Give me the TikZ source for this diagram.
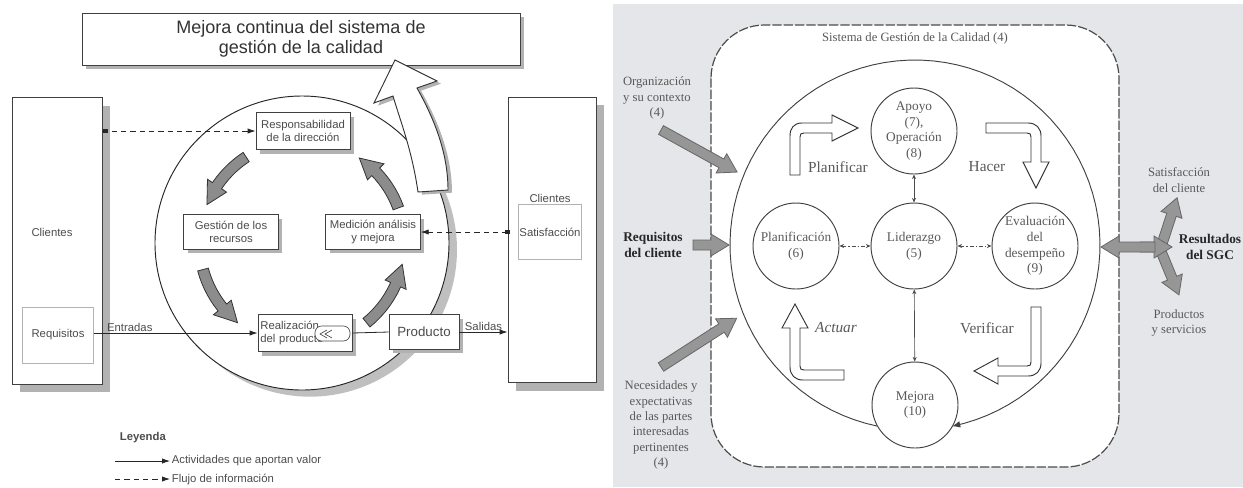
\documentclass[tikz,border=0pt]{standalone}
\usepackage{fontspec}
\setmainfont{Liberation Serif}
\setsansfont{Liberation Sans}
\usetikzlibrary{arrows.meta,positioning,shadows,calc}

\definecolor{fondoDer}{RGB}{228,230,233}
\definecolor{grisFlecha}{RGB}{150,150,150}

\tikzset{every picture/.style={line width=0.75pt}}
\tikzset{
  caja/.style={draw=black!75, fill=white, line width=0.6pt, align=center, inner sep=1pt,
    font=\sffamily\fontsize{8.5}{10}\selectfont, text=black!70},
  sombra/.style={drop shadow={shadow xshift=#1, shadow yshift=-#1, fill=black!30, opacity=1}},
  cajaSuave/.style={draw=black!30, fill=white, line width=0.6pt, align=center, inner sep=1pt,
    font=\sffamily\fontsize{8.5}{10}\selectfont, text=black!70},
  etiqueta/.style={font=\sffamily\fontsize{8.5}{10}\selectfont, text=black!70, inner sep=1pt},
  giro/.style={fill=black!45, draw=black!80, line width=0.6pt},
  valor/.style={draw=black!85, line width=0.6pt, -{Latex[length=6pt,width=4pt]}},
  info/.style={draw=black!85, line width=0.6pt, dash pattern=on 4pt off 3pt, -{Latex[length=6pt,width=4pt]}},
  % right model
  proceso/.style={circle, draw=black!75, fill=white, line width=0.7pt, minimum size=64.5pt, inner sep=0pt,
    align=center, font=\fontsize{10}{11.8}\selectfont, text=black!65},
  texto/.style={align=center, font=\fontsize{9.5}{11.5}\selectfont, text=black!65, inner sep=1pt},
  negrita/.style={align=center, font=\bfseries\fontsize{10}{11.5}\selectfont, text=black!85, inner sep=1pt},
  fase/.style={font=\fontsize{11.5}{13}\selectfont, text=black!65, inner sep=1pt},
  enlace/.style={draw=black!70, line width=0.5pt, {Stealth[length=3.5pt,width=3pt]}-{Stealth[length=3.5pt,width=3pt]}},
  hueca/.style={fill=white, draw=black!80, line width=0.7pt},
  gris/.style={fill=grisFlecha, draw=black!60, line width=0.6pt},
}

% curved grey arrow of the process cycle: tail angle, head base angle, tip angle
\newcommand{\flechaGiro}[3]{%
  \draw[giro] plot[domain=#1:#2, samples=8] (\x:108) -- (#2:114) -- (#3:102.5) -- (#2:91) -- plot[domain=#2:#1, samples=8] (\x:97) -- cycle;}
% straight grey block arrow: tail, angle, length
\newcommand{\flechaGris}[3]{%
  \draw[gris, shift={#1}, rotate=#2] (0,-5) -- (#3-18,-5) -- (#3-18,-11) -- (#3,0) -- (#3-18,11) -- (#3-18,5) -- (0,5) -- cycle;}

\begin{document}
\begin{tikzpicture}[x=0.75pt,y=0.75pt,yscale=-1,xscale=1]
\useasboundingbox (0,0) rectangle (1243,487);

%%%%%%%% left model
% Top box
\node[caja, sombra=3pt, minimum width=328.5pt, minimum height=39pt, font=\sffamily\fontsize{13.5}{15.5}\selectfont, text=black!80] (mejoraSGC) at (301,39) {Mejora continua del sistema de\\gestión de la calidad};

% Customers
\node[caja, sombra=6pt, minimum width=67.5pt, minimum height=215pt] (clientesIn) at (57,241) {};
\node[etiqueta] (clientesIzq) at (52,232) {Clientes};
\node[cajaSuave, minimum width=53pt, minimum height=42pt] (requisitos) at (58,335) {Requisitos};
\node[caja, sombra=6pt, minimum width=66pt, minimum height=214pt] (clientesOut) at (552,240) {};
\node[cajaSuave, minimum width=47pt, minimum height=41pt] (satisfaccion) at (550,232) {Satisfacción};
\node[etiqueta, above=0pt of satisfaccion] (clientesDer) {Clientes};

% Process circle
\node[circle, draw=black!85, fill=white, line width=0.7pt, minimum size=220.5pt, drop shadow={shadow xshift=6pt, shadow yshift=-5pt, fill=black!25, opacity=1}] (ciclo) at (302,243) {};

% Cycle arrows
\begin{scope}[shift={(ciclo.center)}]
\flechaGiro{-123}{-146}{-158}
\flechaGiro{-195}{-219}{-231}
\flechaGiro{51}{24}{12}
\flechaGiro{-20}{-44}{-56}
\end{scope}

% Process boxes
\node[caja, sombra=3pt, minimum width=70.5pt, minimum height=27.75pt] (respDir) at (303,131) {Responsabilidad\\de la dirección};
\node[caja, sombra=3pt, minimum width=71pt, minimum height=26pt] (gestRec) at (231,232) {Gestión de los\\recursos};
\node[caja, sombra=3pt, minimum width=71pt, minimum height=26pt] (medicion) at (373,232) {Medición análisis\\y mejora};
\node[caja, sombra=3pt, minimum width=70.5pt, minimum height=27.75pt, align=left, text width=67pt] (realizacion) at (305,333) {Realización\\del producto};
\node[caja, sombra=3pt, minimum width=52.5pt, minimum height=26pt, font=\sffamily\fontsize{10}{12}\selectfont] (producto) at (424,332) {Producto};

% small process sign in Realizacion
\draw[fill=white, draw=black!70, line width=0.5pt, rounded corners=5pt] (315,326) rectangle (350,341);
\draw[black!70, line width=0.5pt] (327,330) -- (320,334) -- (327,338) (332,330) -- (325,334) -- (332,338);

% Flows
\draw[info] (clientesIn.east |- respDir.west) -- (respDir.west);
\fill[black!85] ($(clientesIn.east |- respDir.west)+(1,-2)$) rectangle +(5,4);
\draw[info] (clientesOut.west |- medicion.east) -- (medicion.east);
\fill[black!85] ($(clientesOut.west |- medicion.east)+(-3,-2)$) rectangle +(5,4);
\draw[valor] (requisitos.east |- realizacion.west) -- (realizacion.west) node[etiqueta, pos=0.22, above] (entradas) {Entradas};
\draw[draw=black!85, line width=0.6pt] (realizacion.east) -- (producto.west);
\draw[valor] (producto.east) -- (producto.east -| clientesOut.west) node[etiqueta, midway, above] (salidas) {Salidas};

% Continual improvement arrow
\draw[hueca, drop shadow={shadow xshift=3pt, shadow yshift=-2pt, fill=black!30, opacity=1}] (418,192) .. controls (412,150) and (400,120) .. (393,96) -- (374,103) -- (395,60) -- (437,81) -- (417,88) .. controls (432,115) and (448,150) .. (448,190) -- cycle;

% Legend
\node[etiqueta, font=\sffamily\bfseries\fontsize{8.5}{10}\selectfont, anchor=west] (leyenda) at (118,438) {Leyenda};
\node[etiqueta, anchor=west] (txtValor) at (170,461) {Actividades que aportan valor};
\node[etiqueta, anchor=west] (txtInfo) at (170,479) {Flujo de información};
\coordinate (legValor) at (115,461);
\coordinate (legInfo) at (115,479);
\draw[valor] (legValor) -- (txtValor.west);
\draw[info] (legInfo) -- (txtInfo.west);

%%%%%%%% right model
\fill[fondoDer] (613,4) rectangle (1243,487);
\draw[fill=white, draw=black!70, line width=0.9pt, dash pattern=on 7pt off 1.5pt, rounded corners=40pt] (711,25) rectangle (1119,467);
\node[texto] (tituloSGC) at (915,38) {Sistema de Gestión de la Calidad (4)};

% big cycle
\coordinate (centroAnillo) at (915,245);
\draw[draw=black!75, line width=0.7pt, -{Latex[length=6pt,width=5pt]}, shift={(centroAnillo)}] plot[domain=-258.4:78.4, samples=90] (\x:185);

% Processes
\node[proceso] (apoyo) at (914,131) {Apoyo\\(7),\\Operación\\(8)};
\node[proceso] (liderazgo) at (914,246) {Liderazgo\\(5)};
\node[proceso] (planif) at (796,246) {Planificación\\(6)};
\node[proceso] (evaluacion) at (1035,246) {Evaluación\\del\\desempeño\\(9)};
\node[proceso] (mejora) at (915,405) {Mejora\\(10)};

\draw[enlace] (apoyo) -- (liderazgo);
\draw[enlace] (liderazgo) -- (mejora);
\draw[enlace, dash pattern=on 3pt off 1.5pt on 1pt off 1.5pt] (planif) -- (liderazgo);
\draw[enlace, dash pattern=on 3pt off 1.5pt on 1pt off 1.5pt] (liderazgo) -- (evaluacion);

% PDCA arrows
\draw[hueca] (790,175) -- (790,136) .. controls (790,128) and (794,123) .. (802,123) -- (832,123) -- (832,115) -- (858,128) -- (832,141) -- (832,133) -- (804,133) .. controls (801,133) and (800,134) .. (800,137) -- (800,175) -- cycle;
\draw[hueca] (986,123) -- (1028,123) .. controls (1036,123) and (1041,128) .. (1041,136) -- (1041,162) -- (1049,162) -- (1036,188) -- (1023,162) -- (1031,162) -- (1031,137) .. controls (1031,134) and (1030,133) .. (1027,133) -- (986,133) -- cycle;
\draw[hueca] (1031,307) -- (1041,307) -- (1041,363) .. controls (1041,371) and (1036,376) .. (1028,376) -- (998,376) -- (998,384) -- (974,371) -- (998,358) -- (998,366) -- (1027,366) .. controls (1030,366) and (1031,365) .. (1031,362) -- cycle;
\draw[hueca] (844,370) -- (844,380) -- (803,380) .. controls (795,380) and (790,375) .. (790,367) -- (790,328) -- (782,328) -- (795,304) -- (808,328) -- (800,328) -- (800,366) .. controls (800,369) and (801,370) .. (804,370) -- cycle;
\node[fase] (planificar) at (838,167) {Planificar};
\node[fase] (hacer) at (987,167) {Hacer};
\node[fase, font=\itshape\fontsize{11.5}{13}\selectfont] (actuar) at (836,328) {Actuar};
\node[fase] (verificar) at (987,328) {Verificar};

% Inputs
\node[texto] (organizacion) at (657,98) {Organización\\y su contexto\\(4)};
\node[negrita] (reqCliente) at (653,245) {Requisitos\\del cliente};
\node[texto] (necesidades) at (661,425) {Necesidades y\\expectativas\\de las partes\\interesadas\\pertinentes\\(4)};
\coordinate (orgCola) at (661,130);
\coordinate (reqCola) at (693,245);
\coordinate (necCola) at (661,367);
\flechaGris{(orgCola)}{28.9}{87}
\flechaGris{(reqCola)}{0}{36}
\flechaGris{(necCola)}{-32.8}{90}

% Outputs
\node[texto] (satCliente) at (1179,180) {Satisfacción\\del cliente};
\node[negrita] (resultados) at (1210,247) {Resultados\\del SGC};
\node[texto] (productos) at (1179,323) {Productos\\y servicios};
\coordinate (nudoArriba) at (1160,250);
\coordinate (nudoAbajo) at (1158,244);
\coordinate (nudoSGC) at (1155,247);
\coordinate (resDer) at (1140,247);
\flechaGris{(nudoArriba)}{-71.9}{55}
\flechaGris{(nudoAbajo)}{67.6}{55}
\flechaGris{(resDer)}{0}{32}
\flechaGris{(nudoSGC)}{180}{54}
\end{tikzpicture}
\end{document}
